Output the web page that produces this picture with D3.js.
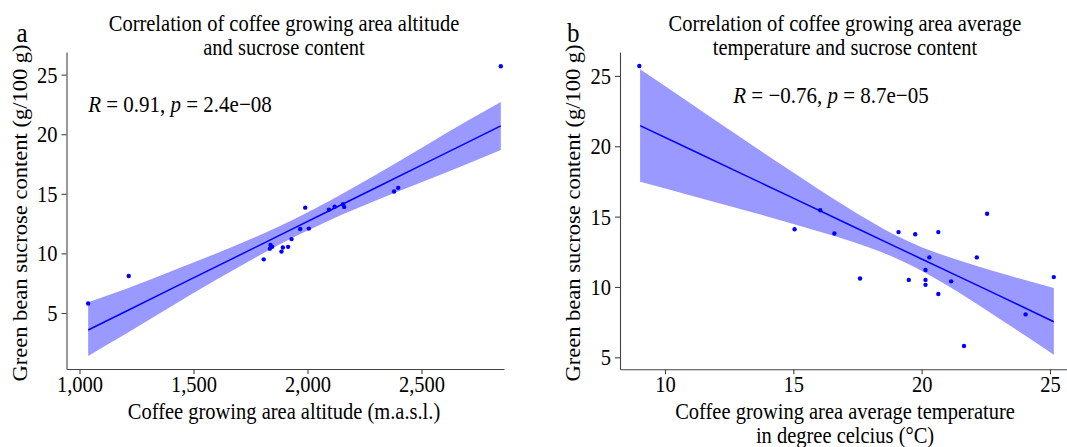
<!DOCTYPE html>
<html><head><meta charset="utf-8">
<script src="https://cdn.jsdelivr.net/npm/d3@7"></script>
<style>
html,body{margin:0;padding:0;background:#fff;}
svg{display:block;}
text{font-family:"Liberation Serif","Times New Roman",serif;fill:#000;}
</style></head>
<body>
<svg id="chart" width="1067" height="447"></svg>
<script>
// ---- Panel a: altitude vs sucrose ----
const altA = [1038, 1216, 1808, 1838, 1845, 1835, 1886, 1892, 1915, 1930, 1968, 2006, 1990, 2094, 2119, 2156, 2161, 2380, 2398, 2848];
const sucA = [5.8, 8.1, 9.5, 10.7, 10.55, 10.4, 10.15, 10.5, 10.55, 11.2, 12.05, 12.08, 13.84, 13.67, 13.92, 14.12, 13.9, 15.2, 15.5, 25.7];
// fitted line and confidence band
const bandAltA = [1038, 1200, 1400, 1600, 1800, 1950, 2100, 2300, 2500, 2700, 2848];
const bandFitA = [3.57, 5.10, 7.00, 8.89, 10.78, 12.20, 13.62, 15.51, 17.41, 19.30, 20.70];
const bandLowA = [1.40, 3.21, 5.52, 7.78, 9.95, 11.45, 12.81, 14.43, 15.97, 17.50, 18.67];
const bandHighA = [5.90, 6.99, 8.48, 10.00, 11.61, 12.95, 14.44, 16.59, 18.85, 21.10, 22.70];
const xTicksA = [1000, 1500, 2000, 2500];

// ---- Panel b: temperature vs sucrose ----
const tempB = [9.0, 15.05, 16.05, 16.6, 17.6, 19.1, 19.5, 19.75, 20.15, 20.15, 20.15, 20.3, 20.65, 20.65, 21.15, 21.65, 22.15, 22.55, 24.05, 25.15];
const sucB = [25.7, 14.1, 15.45, 13.8, 10.6, 13.9, 10.5, 13.75, 11.2, 10.5, 10.15, 12.1, 13.9, 9.5, 10.4, 5.8, 12.1, 15.2, 8.05, 10.7];
const bandTempB = [9.03, 11, 13, 15, 17, 19, 20, 21, 23, 25.15];
const bandFitB = [21.47, 19.77, 18.04, 16.31, 14.58, 12.85, 11.99, 11.13, 9.40, 7.53];
const bandLowB = [17.47, 16.50, 15.51, 14.48, 13.39, 12.04, 11.15, 10.10, 7.78, 5.19];
const bandHighB = [25.47, 23.04, 20.57, 18.14, 15.77, 13.66, 12.83, 12.16, 11.02, 9.93];
const xTicksB = [10, 15, 20, 25];

const yTicks = [5, 10, 15, 20, 25];

const svg = d3.select("#chart");
svg.append("rect").attr("width", 1067).attr("height", 447).attr("fill", "#fff");

const FS = 20.5, STR = 1.1;
const BLUE = "#0000ff", BAND = "#9999ff";

function label(g, x, y, txt, opts = {}) {
  const t = g.append("text")
    .attr("transform", `translate(${x},${y})` + (opts.rotate ? " rotate(-90) scale(" + STR + ",1)" : " scale(1," + STR + ")"))
    .attr("text-anchor", opts.anchor || "middle")
    .style("font-size", (opts.size || FS) + "px");
  if (Array.isArray(txt)) {
    txt.forEach(p => t.append("tspan").text(p.t).style("font-style", p.i ? "italic" : "normal"));
  } else t.text(txt);
  return t;
}

function panel(cfg) {
  const g = svg.append("g");
  const x = d3.scaleLinear().domain(cfg.xDomain).range(cfg.xRange);
  const y = d3.scaleLinear().domain(cfg.yDomain).range(cfg.yRange);

  // band
  const bandData = cfg.bandX.map((v, i) => ({x: v, lo: cfg.bandLow[i], hi: cfg.bandHigh[i], f: cfg.bandFit[i]}));
  g.append("path").datum(bandData)
    .attr("d", d3.area().x(d => x(d.x)).y0(d => y(d.lo)).y1(d => y(d.hi)).curve(d3.curveMonotoneX))
    .attr("fill", BAND);
  g.append("path").datum(bandData)
    .attr("d", d3.line().x(d => x(d.x)).y(d => y(d.f)))
    .attr("fill", "none").attr("stroke", BLUE).attr("stroke-width", 1.5);

  // points
  g.selectAll("circle.pt").data(cfg.px.map((v, i) => [v, cfg.py[i]])).enter()
    .append("circle").attr("cx", d => x(d[0])).attr("cy", d => y(d[1])).attr("r", 2.2).attr("fill", BLUE);

  // axes
  const yb = cfg.yRange[0];
  const xa = g.append("g").attr("transform", `translate(0,${yb})`)
    .call(d3.axisBottom(x).tickValues(cfg.xTicks).tickFormat(cfg.xFmt).tickSize(5).tickSizeOuter(0));
  const ya = g.append("g").attr("transform", `translate(${cfg.xRange[0]},0)`)
    .call(d3.axisLeft(y).tickValues(yTicks).tickFormat(d3.format("d")).tickSize(5).tickSizeOuter(0));
  [xa, ya].forEach(a => {
    a.selectAll("path.domain").attr("stroke", "#444").attr("stroke-width", 1.1);
    a.selectAll(".tick line").attr("stroke", "#444").attr("stroke-width", 1.1);
    a.selectAll("text").style("font-size", FS + "px").style("font-family", '"Liberation Serif","Times New Roman",serif').attr("fill", "#000");
  });
  xa.selectAll(".tick text").attr("y", null).attr("dy", null)
    .attr("transform", `translate(0,23) scale(1,${STR})`);
  ya.selectAll(".tick text").attr("x", null).attr("dy", null)
    .attr("transform", `translate(-9,7.5) scale(1,${STR})`);

  // annotation
  label(g, x(cfg.anno[0]), y(cfg.anno[1]), cfg.annoText, {anchor: "start", size: 21});
  // titles
  cfg.title.forEach((t, i) => label(g, cfg.titleX, 30.5 + i * 24.5, t));
  cfg.xTitle.forEach((t, i) => label(g, cfg.titleX, 419 + i * 23.5, t));
  label(g, cfg.yTitleX, cfg.yTitleY, "Green bean sucrose content (g/100 g)", {rotate: true});
  label(g, cfg.tagX, 41.5, cfg.tag, {anchor: "start", size: 25});
}

panel({
  xDomain: [943, 2862], xRange: [66.5, 504],
  yDomain: [0.3, 26.9], yRange: [369, 52],
  px: altA, py: sucA,
  bandX: bandAltA, bandFit: bandFitA, bandLow: bandLowA, bandHigh: bandHighA,
  xTicks: xTicksA, xFmt: d3.format(","),
  anno: [1038, 21.9],
  annoText: [{t: "R", i: true}, {t: " = 0.91, "}, {t: "p", i: true}, {t: " = 2.4e\u221208"}],
  title: ["Correlation of coffee growing area altitude", "and sucrose content"],
  titleX: 284,
  xTitle: ["Coffee growing area altitude (m.a.s.l.)"],
  yTitleX: 27, yTitleY: 213,
  tag: "a", tagX: 16.5
});

panel({
  xDomain: [8.247, 25.8], xRange: [620, 1070.5],
  yDomain: [4.147, 26.7], yRange: [369.3, 52],
  px: tempB, py: sucB,
  bandX: bandTempB, bandFit: bandFitB, bandLow: bandLowB, bandHigh: bandHighB,
  xTicks: xTicksB, xFmt: d3.format("d"),
  anno: [12.66, 23.06],
  annoText: [{t: "R", i: true}, {t: " = \u22120.76, "}, {t: "p", i: true}, {t: " = 8.7e\u221205"}],
  title: ["Correlation of coffee growing area average", "temperature and sucrose content"],
  titleX: 845,
  xTitle: ["Coffee growing area average temperature", "in degree celcius (\u00B0C)"],
  yTitleX: 580, yTitleY: 213,
  tag: "b", tagX: 567
});
</script>
</body></html>
